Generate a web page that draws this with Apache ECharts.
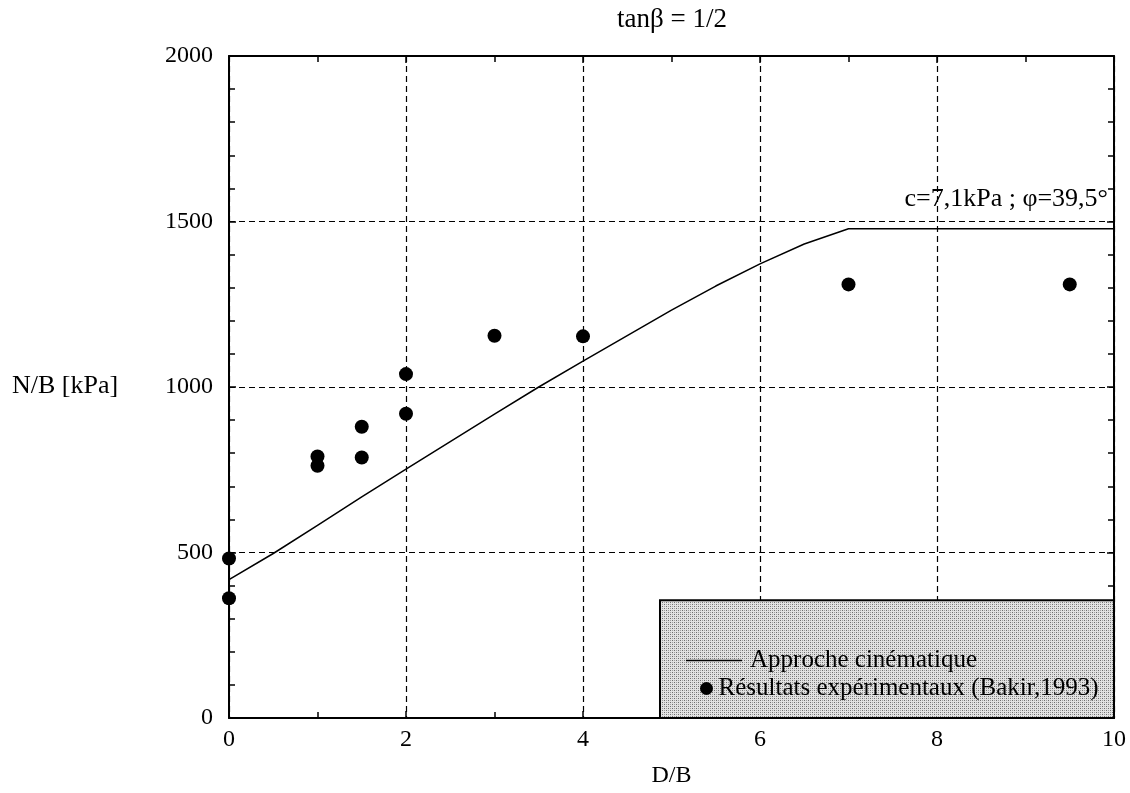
<!DOCTYPE html>
<html>
<head>
<meta charset="utf-8">
<script src="https://cdn.jsdelivr.net/npm/echarts@6/dist/echarts.min.js"></script>
<style>
html,body{margin:0;padding:0;background:#fff;}
#chart{width:1130px;height:793px;}
</style>
</head>
<body>
<div id="chart"></div>
<script>
// Data
const titleText = 'tanβ = 1/2';
const xName = 'D/B';
const yName = 'N/B [kPa]';
const annotation = 'c=7,1kPa ; φ=39,5°';
const lineName = 'Approche cinématique';
const scatterName = 'Résultats expérimentaux (Bakir,1993)';

const lineX = [0, 0.5, 1, 1.5, 2, 2.5, 3, 3.5, 4, 4.5, 5, 5.5, 6, 6.5, 7, 10];
const lineY = [418, 497, 582, 668, 752, 835, 918, 1000, 1078, 1155, 1232, 1305, 1372, 1432, 1478, 1478];

const expX = [0, 0, 1, 1, 1.5, 1.5, 2, 2, 3, 4, 7, 9.5];
const expY = [482, 362, 790, 762, 880, 787, 1039, 919, 1155, 1153, 1310, 1310];

const legendBoxX = [4.87, 10];
const legendBoxY = [0, 356];

// pattern for stippled legend background
const pc = document.createElement('canvas');
pc.width = 4; pc.height = 4;
const pctx = pc.getContext('2d');
pctx.fillStyle = '#e2e2e2';
pctx.fillRect(0, 0, 4, 4);
pctx.fillStyle = '#6e6e6e';
pctx.fillRect(0, 0, 1, 1);
pctx.fillRect(2, 2, 1, 1);
pctx.fillStyle = '#a0a0a0';
pctx.fillRect(2, 0, 1, 1);
pctx.fillRect(0, 2, 1, 1);

const FONT = 'Liberation Serif';

const chart = echarts.init(document.getElementById('chart'));
const baseAxisLine = {show: true, onZero: false, lineStyle: {color: '#000', width: 2}};
const gridSplit = {show: true, lineStyle: {color: '#000', width: 1.2, type: [6, 4]}};
const tickStyle = {color: '#000', width: 1.5};

chart.setOption({
  animation: false,
  backgroundColor: '#fff',
  graphic: [
    {type: 'text', x: 672, y: 20, z: 10,
     style: {text: titleText, font: '27px "Liberation Serif"', fill: '#000', align: 'center', verticalAlign: 'middle', textAlign: 'center', textVerticalAlign: 'middle'}},
    {type: 'text', x: 12, y: 386, z: 10,
     style: {text: yName, font: '26px "Liberation Serif"', fill: '#000', align: 'left', verticalAlign: 'middle', textAlign: 'left', textVerticalAlign: 'middle'}},
    {type: 'text', x: 1108, y: 199, z: 10,
     style: {text: annotation, font: '26px "Liberation Serif"', fill: '#000', align: 'right', verticalAlign: 'middle', textAlign: 'right', textVerticalAlign: 'middle'}}
  ],
  grid: {left: 229, right: 16, top: 56, bottom: 69},
  legend: [
    {data: [{name: lineName, icon: 'rect'}], orient: 'vertical', left: 686, top: 648, itemWidth: 56, itemHeight: 1.5,
     itemStyle: {color: '#000'},
     textStyle: {fontFamily: FONT, fontSize: 25, color: '#000', padding: [0, 0, 0, 3]}, padding: 0},
    {data: [{name: scatterName, icon: 'circle'}], orient: 'vertical', left: 700, top: 676, itemWidth: 14, itemHeight: 13,
     itemStyle: {color: '#000', opacity: 1},
     textStyle: {fontFamily: FONT, fontSize: 25, color: '#000'}, padding: 0}
  ],
  xAxis: [
    {type: 'value', min: 0, max: 10, interval: 2, name: xName, nameLocation: 'middle', nameGap: 46,
     nameTextStyle: {fontFamily: FONT, fontSize: 24, color: '#000'},
     axisLine: baseAxisLine,
     axisTick: {show: true, inside: true, length: 7, lineStyle: tickStyle},
     minorTick: {show: true, splitNumber: 2, length: 6, lineStyle: tickStyle},
     axisLabel: {fontFamily: FONT, fontSize: 24, color: '#000', margin: 10},
     splitLine: gridSplit},
    {type: 'value', position: 'top', min: 0, max: 10, interval: 2,
     axisLine: baseAxisLine,
     axisTick: {show: true, inside: true, length: 7, lineStyle: tickStyle},
     minorTick: {show: true, splitNumber: 2, length: 6, lineStyle: tickStyle},
     axisLabel: {show: false}, splitLine: {show: false}}
  ],
  yAxis: [
    {type: 'value', min: 0, max: 2000, interval: 500,
     axisLine: baseAxisLine,
     axisTick: {show: true, inside: true, length: 7, lineStyle: tickStyle},
     minorTick: {show: true, splitNumber: 5, length: 6, lineStyle: tickStyle},
     axisLabel: {fontFamily: FONT, fontSize: 24, color: '#000', margin: 16, formatter: v => String(v)},
     splitLine: gridSplit},
    {type: 'value', position: 'right', min: 0, max: 2000, interval: 500,
     axisLine: baseAxisLine,
     axisTick: {show: true, inside: true, length: 7, lineStyle: tickStyle},
     minorTick: {show: true, splitNumber: 5, length: 6, lineStyle: tickStyle},
     axisLabel: {show: false}, splitLine: {show: false}}
  ],
  series: [
    {name: lineName, type: 'line', xAxisIndex: 0, yAxisIndex: 0,
     data: lineX.map((x, i) => [x, lineY[i]]),
     showSymbol: false, symbol: 'none', color: '#000',
     lineStyle: {color: '#000', width: 1.5}, z: 3,
     markArea: {silent: true, z: 1,
       itemStyle: {color: {image: pc, repeat: 'repeat'}, borderColor: '#000', borderWidth: 2},
       data: [[{coord: [legendBoxX[0], legendBoxY[1]]}, {coord: [legendBoxX[1], legendBoxY[0]]}]]}
    },
    {name: scatterName, type: 'scatter', xAxisIndex: 0, yAxisIndex: 0,
     data: expX.map((x, i) => [x, expY[i]]),
     symbol: 'circle', symbolSize: 14, color: '#000', itemStyle: {color: '#000', opacity: 1}, z: 4}
  ]
});
</script>
</body>
</html>
